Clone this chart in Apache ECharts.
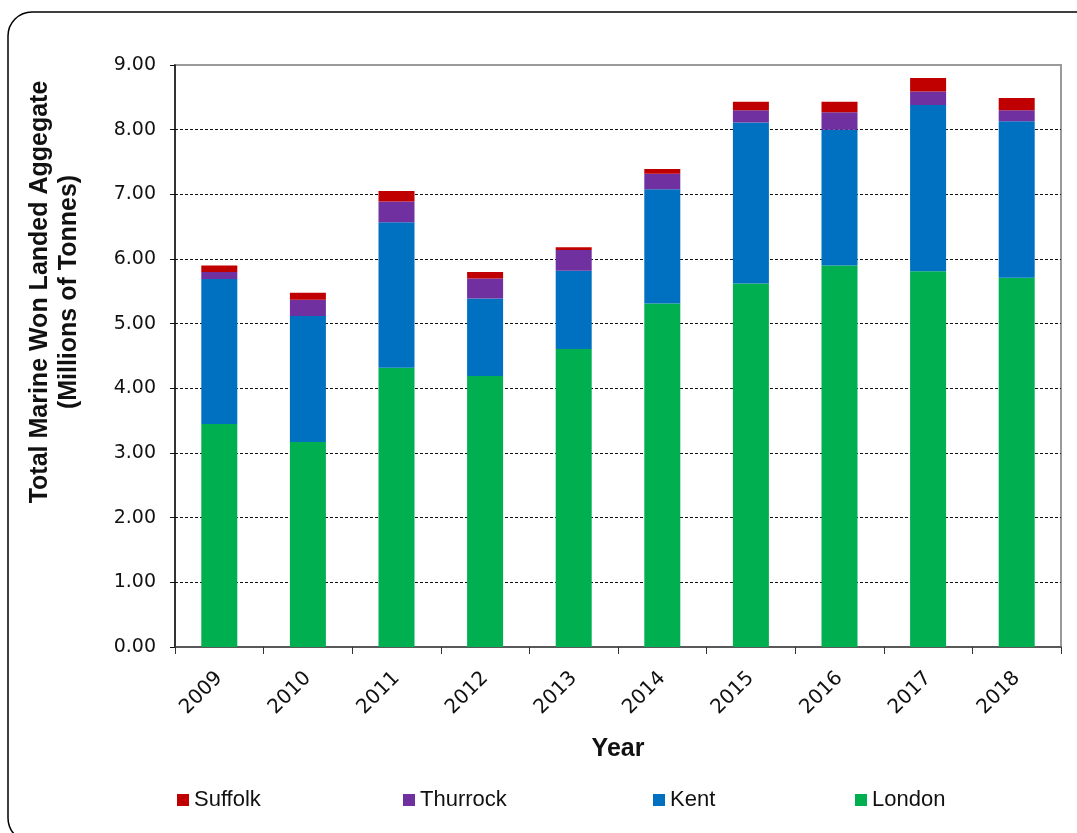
<!DOCTYPE html>
<html>
<head>
<meta charset="utf-8">
<script src="https://cdn.jsdelivr.net/npm/echarts@6/dist/echarts.min.js"></script>
<style>
  html, body { margin: 0; padding: 0; background: #fff; }
  #chart { width: 1077px; height: 833px; }
</style>
</head>
<body>
<div id="chart"></div>
<script>
// Marine-won aggregate landed by region, millions of tonnes
const years = ['2009', '2010', '2011', '2012', '2013', '2014', '2015', '2016', '2017', '2018'];
const london   = [3.45, 3.17, 4.32, 4.19, 4.61, 5.31, 5.62, 5.90, 5.81, 5.71];
const kent     = [2.24, 1.95, 2.25, 1.20, 1.21, 1.77, 2.49, 2.10, 2.57, 2.42];
const thurrock = [0.11, 0.25, 0.32, 0.31, 0.32, 0.24, 0.19, 0.27, 0.21, 0.17];
const suffolk  = [0.10, 0.11, 0.16, 0.10, 0.04, 0.07, 0.13, 0.16, 0.21, 0.19];
const yTicks = [0, 1, 2, 3, 4, 5, 6, 7, 8, 9];

const colors = { Suffolk: '#C00000', Thurrock: '#7030A0', Kent: '#0070C0', London: '#00B050' };
const tickFont = '"DejaVu Sans", Verdana, sans-serif';
const textFont = '"Liberation Sans", Arial, sans-serif';

const chart = echarts.init(document.getElementById('chart'));

function barSeries(name, data) {
  return {
    name: name,
    type: 'bar',
    stack: 'total',
    data: data,
    barWidth: 36,
    itemStyle: { color: colors[name] },
    emphasis: { disabled: true }
  };
}

// one legend per entry so each sits at its own x position
const legendLeft = { Suffolk: 172, Thurrock: 398, Kent: 648, London: 850 };
const legends = Object.keys(legendLeft).map(name => ({
  data: [name],
  left: legendLeft[name],
  top: 784,
  itemWidth: 12,
  itemHeight: 12,
  itemGap: 6,
  icon: 'rect',
  textStyle: { fontFamily: textFont, fontSize: 22, color: '#111' },
  selectedMode: false
}));

chart.setOption({
  animation: false,
  backgroundColor: '#fff',
  graphic: [
    {
      type: 'rect',
      shape: { x: 8, y: 12, width: 1095, height: 830, r: 24 },
      style: { fill: 'none', stroke: '#000', lineWidth: 1.5 },
      silent: true
    },
    {
      type: 'text',
      x: 55,
      y: 292,
      rotation: Math.PI / 2,
      style: {
        text: 'Total Marine Won Landed Aggegate\n(Millions of Tonnes)',
        font: 'bold 25px ' + textFont,
        fill: '#111',
        align: 'center',
        verticalAlign: 'middle',
        lineHeight: 29
      },
      silent: true
    }
  ],
  legend: legends,
  grid: {
    left: 175,
    top: 65,
    right: 16,
    bottom: 186,
    show: true,
    borderColor: '#9a9a9a',
    borderWidth: 2,
    containLabel: false
  },
  xAxis: {
    type: 'category',
    data: years,
    boundaryGap: true,
    axisLine: { lineStyle: { color: '#444', width: 1.5 } },
    axisTick: { show: true, length: 7, inside: false, alignWithLabel: false, lineStyle: { color: '#333' } },
    axisLabel: {
      rotate: 45,
      margin: 28,
      fontFamily: tickFont,
      fontSize: 20,
      color: '#111'
    },
    name: 'Year',
    nameLocation: 'middle',
    nameGap: 90,
    nameTextStyle: { fontFamily: textFont, fontSize: 25, fontWeight: 'bold', color: '#111' }
  },
  yAxis: {
    type: 'value',
    min: yTicks[0],
    max: yTicks[yTicks.length - 1],
    interval: 1,
    axisLine: { show: true, lineStyle: { color: '#111', width: 1.5 } },
    axisTick: { show: true, length: 5, inside: false, lineStyle: { color: '#111' } },
    axisLabel: {
      margin: 19,
      fontFamily: tickFont,
      fontSize: 19,
      color: '#111',
      formatter: v => v.toFixed(2)
    },
    splitLine: {
      show: true,
      showMinLine: false,
      showMaxLine: false,
      lineStyle: { color: '#111', type: [3, 2], width: 1 }
    }
  },
  series: [
    barSeries('London', london),
    barSeries('Kent', kent),
    barSeries('Thurrock', thurrock),
    barSeries('Suffolk', suffolk)
  ]
});
</script>
</body>
</html>
